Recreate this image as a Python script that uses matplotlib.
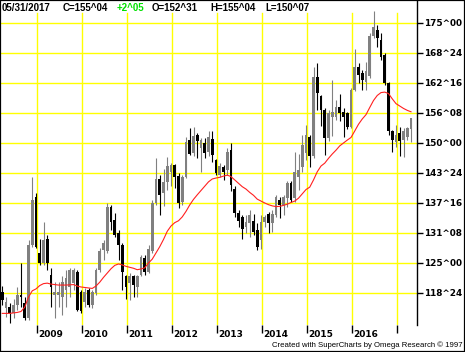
import matplotlib
matplotlib.use('Agg')
import matplotlib.pyplot as plt
import matplotlib.transforms as mtransforms
from matplotlib.patches import Rectangle

# ---------------- data (monthly bars, Apr 2008 .. May 2017) ----------------
opens = [119.0, 115.6, 115.9, 114.5, 116.3, 118.3, 116.6, 113.5, 128.8, 138.8,
         127.0, 124.9, 130.1, 122.5, 118.3, 118.3, 118.0, 119.4, 120.1, 120.8,
         123.2, 119.0, 116.9, 119.4, 116.3, 118.7, 123.5, 127.7, 127.4, 136.7,
         134.0, 131.2, 128.8, 122.2, 120.8, 122.2, 120.1, 122.5, 126.0, 123.2,
         127.4, 137.4, 142.6, 139.5, 141.8, 144.0, 145.4, 143.2, 137.8, 143.0,
         150.6, 147.9, 151.7, 149.0, 149.9, 148.2, 150.8, 146.5, 143.3, 145.1,
         144.4, 148.5, 140.5, 135.5, 134.5, 132.5, 133.3, 133.8, 131.8, 129.8,
         133.6, 135.3, 133.3, 135.0, 138.1, 137.1, 138.5, 141.6, 138.5, 143.0,
         145.0, 148.0, 151.3, 147.2, 163.8, 159.7, 156.9, 151.0, 155.5, 155.5,
         157.6, 156.5, 156.2, 153.4, 161.0, 165.9, 164.5, 162.8, 164.0, 172.2,
         173.5, 171.5, 168.3, 162.4, 152.4, 150.3, 152.0, 150.6, 151.3, 152.97]
highs = [120.2, 118.0, 116.6, 117.6, 120.1, 124.9, 118.0, 129.8, 143.0, 139.5,
         130.1, 133.6, 130.8, 123.9, 121.1, 121.1, 122.2, 123.5, 123.9, 123.9,
         123.5, 119.4, 119.7, 119.7, 119.4, 123.9, 128.1, 129.8, 137.4, 137.1,
         135.4, 131.9, 129.1, 122.5, 122.9, 122.5, 122.5, 126.7, 126.7, 128.8,
         138.1, 146.8, 143.3, 144.5, 147.0, 145.8, 145.6, 143.7, 143.3, 151.2,
         153.2, 153.4, 152.1, 151.0, 151.0, 152.4, 152.4, 146.6, 145.8, 145.4,
         149.0, 149.9, 141.0, 136.0, 135.0, 135.0, 136.0, 135.3, 133.3, 135.0,
         135.0, 135.7, 136.0, 139.2, 138.8, 139.2, 142.0, 142.0, 148.2, 147.8,
         151.7, 153.8, 151.7, 165.9, 166.6, 160.0, 157.2, 156.9, 163.1, 159.0,
         160.3, 157.2, 156.5, 161.4, 169.5, 166.6, 165.2, 166.9, 172.9, 177.4,
         174.6, 172.9, 168.7, 162.8, 152.7, 153.75, 153.4, 153.2, 153.4, 155.125]
lows = [116.3, 113.8, 112.4, 113.5, 115.2, 115.9, 113.1, 113.1, 128.4, 128.1,
        124.6, 124.6, 123.5, 115.9, 113.5, 115.9, 114.2, 115.9, 118.0, 119.4,
        114.9, 114.5, 115.9, 115.9, 115.6, 118.3, 123.2, 125.6, 127.0, 131.9,
        130.5, 125.6, 119.4, 117.6, 117.3, 118.0, 118.0, 122.2, 122.5, 122.9,
        127.0, 137.1, 135.0, 136.8, 140.2, 141.0, 140.6, 136.4, 137.0, 142.7,
        147.4, 147.2, 146.8, 144.0, 146.8, 147.2, 146.1, 143.3, 143.0, 142.3,
        143.3, 139.9, 134.5, 132.5, 129.9, 131.2, 130.5, 130.8, 127.7, 128.0,
        132.5, 131.2, 131.5, 134.5, 134.3, 135.0, 136.7, 137.8, 137.8, 140.2,
        144.0, 146.5, 145.1, 146.8, 156.9, 153.5, 147.5, 150.5, 151.5, 154.8,
        154.5, 151.3, 152.9, 153.1, 160.8, 162.4, 161.0, 161.0, 163.5, 171.8,
        170.1, 167.3, 162.1, 151.7, 148.2, 149.2, 147.2, 147.0, 150.6, 150.22]
closes = [117.2, 116.9, 114.5, 116.3, 118.3, 118.0, 113.5, 128.8, 138.1, 128.4,
          124.9, 129.8, 124.9, 120.1, 119.0, 119.0, 121.1, 121.8, 123.5, 123.5,
          115.2, 114.9, 119.0, 116.3, 119.0, 123.5, 127.4, 129.1, 136.7, 133.6,
          130.8, 128.8, 123.2, 120.1, 122.2, 120.4, 122.2, 126.3, 123.2, 128.0,
          137.4, 142.6, 139.2, 141.8, 145.2, 145.4, 143.0, 137.5, 142.9, 150.3,
          147.7, 151.5, 150.5, 150.6, 147.9, 151.3, 147.5, 143.7, 145.3, 144.0,
          148.2, 141.3, 135.5, 133.7, 132.0, 133.6, 135.0, 131.5, 128.4, 133.6,
          134.6, 133.3, 135.3, 138.8, 137.1, 138.8, 141.6, 138.1, 144.0, 144.4,
          149.5, 151.7, 147.2, 163.8, 160.4, 156.9, 151.0, 156.2, 156.5, 157.6,
          156.2, 155.5, 153.4, 161.0, 165.9, 164.2, 163.1, 164.9, 172.2, 174.2,
          171.8, 168.0, 162.4, 152.4, 150.6, 151.7, 150.4, 152.4, 153.1, 155.125]
moving_avg = [114.5, 114.5, 114.5, 114.6, 114.7, 114.9, 115.8, 117.9, 119.2, 119.6,
              120.3, 120.7, 120.8, 120.6, 120.5, 120.4, 120.4, 120.4, 120.45, 120.5,
              120.2, 120.0, 119.9, 119.8, 119.7, 120.2, 121.0, 122.0, 122.9, 123.8,
              124.5, 124.8, 124.6, 124.3, 124.1, 123.9, 123.6, 123.75, 124.0, 125.0,
              125.8, 127.1, 128.4, 129.9, 131.6, 132.7, 133.4, 133.8, 134.6, 135.75,
              137.1, 138.25, 139.2, 140.1, 141.0, 141.9, 142.5, 142.7, 142.85, 143.1,
              143.3, 143.0, 142.3, 141.6, 140.9, 140.4, 139.7, 139.1, 138.3, 137.9,
              137.5, 137.15, 136.9, 136.75, 136.8, 137.0, 137.25, 137.6, 137.9, 138.5,
              139.4, 140.3, 140.8, 142.3, 144.0, 145.2, 145.8, 146.8, 147.7, 148.5,
              149.4, 150.0, 150.6, 151.15, 152.5, 153.9, 155.0, 155.9, 157.4, 158.85,
              159.9, 160.5, 160.6, 160.3, 159.2, 158.2, 157.7, 157.2, 156.8, 156.5]

year_labels = ['2009', '2010', '2011', '2012', '2013', '2014', '2015', '2016', '']
year_first_bar = [9, 21, 33, 45, 57, 69, 81, 93, 105]   # index of January bar

price_ticks = [118.75, 125.0, 131.25, 137.5, 143.75, 150.0, 156.25, 162.5, 168.75, 175.0]
price_labels = ['118^24', '125^00', '131^08', '137^16', '143^24',
                '150^00', '156^08', '162^16', '168^24', '175^00']

header = [('05/31/2017', 'black'), ('C=155^04', 'black'), ('+2^05', '#00e000'),
          ('O=152^31', 'black'), ('H=155^04', 'black'), ('L=150^07', 'black')]
footer = 'Created with SuperCharts by Omega Research \u00a9 1997'

# ---------------- figure ----------------
W, H = 465, 352
fig = plt.figure(figsize=(W / 100, H / 100), dpi=100)
fig.patch.set_facecolor('white')
ax = fig.add_axes([0 / W, 27 / H, 417 / W, 325 / H])
ax.set_facecolor('white')

n = len(closes)
x = list(range(n))
ax.set_xlim(-0.6, 110.6)
ax.set_ylim(112.08, 179.79)

yellow = '#ffff00'
for p in price_ticks:
    ax.axhline(p, color=yellow, lw=1.0, zorder=0)
grid_top = (325 - 13) / 325
for xi in year_first_bar:
    ax.axvline(xi + 0.3, ymin=0, ymax=grid_top, color=yellow, lw=1.0, zorder=0)

gray = '#808080'
cols = [gray if c >= o else 'black' for o, c in zip(opens, closes)]
ax.vlines(x, lows, highs, colors=cols, lw=0.8, zorder=2)
bottoms = [min(o, c) for o, c in zip(opens, closes)]
heights = [max(abs(c - o), 0.25) for o, c in zip(opens, closes)]
ax.bar(x, heights, bottom=bottoms, width=0.72, color=cols, lw=0, zorder=3)

ax.plot(x, moving_avg, color='#ff2020', lw=0.8, zorder=4)

# axes styling
for s in ['left', 'top', 'bottom']:
    ax.spines[s].set_visible(False)
ax.spines['right'].set_color('black')
ax.spines['right'].set_linewidth(1.0)
ax.yaxis.tick_right()
ax.set_yticks(price_ticks)
ax.set_yticklabels(price_labels, fontsize=6.4, fontweight='bold', family='DejaVu Sans')
ax.tick_params(axis='y', length=4, width=1, color='black', pad=1)

ax.set_xticks([xi + 0.3 for xi in year_first_bar])
ax.set_xticklabels([])
ax.tick_params(axis='x', length=6, width=1, color='black', direction='out')
trans = mtransforms.blended_transform_factory(ax.transData, ax.transAxes)
for xi, lab in zip(year_first_bar, year_labels):
    ax.text(xi + 0.55, -0.016, lab, transform=trans, ha='left', va='top',
            fontsize=6.5, fontweight='bold', family='DejaVu Sans')

# header
hx = [2, 63, 117, 152, 210, 265]
for (t, c), px in zip(header, hx):
    fig.text(px / W, 1 - 8 / H, t, color=c, ha='left', va='center',
             fontsize=7.0, fontweight='bold', family='Liberation Sans')

fig.text(463 / W, 1 - 345 / H, footer, ha='right', va='center',
         fontsize=5.6, family='Liberation Sans')

fig.add_artist(Rectangle((0, 0), 1, 1, transform=fig.transFigure, fill=False,
                         ec='black', lw=1.6))

fig.savefig('out.png', dpi=100, facecolor='white')
